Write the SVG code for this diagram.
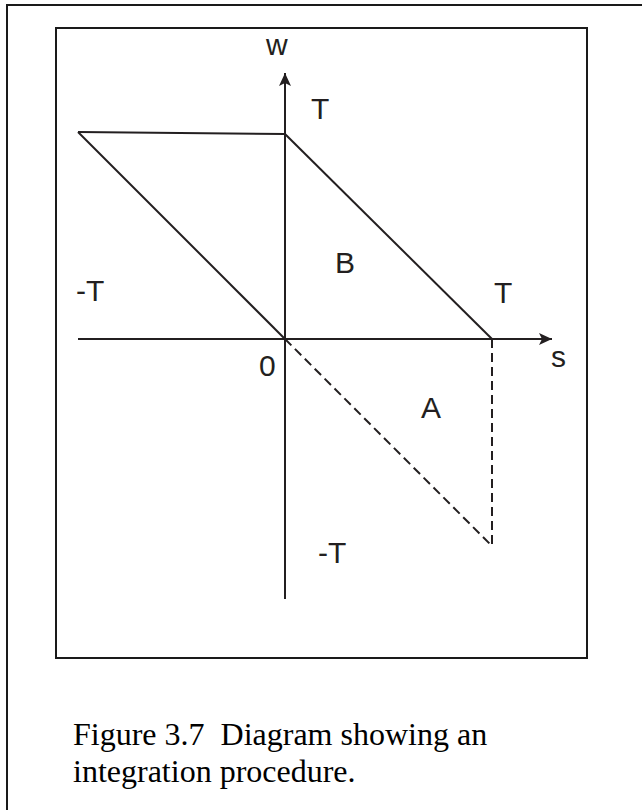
<svg xmlns="http://www.w3.org/2000/svg" width="642" height="810" viewBox="0 0 642 810">
<style>
.frame{fill:none;stroke:#1a1a1a;stroke-width:2}
.ln{fill:none;stroke:#231f20;stroke-width:2}
.dash{fill:none;stroke:#231f20;stroke-width:2;stroke-dasharray:9 5}
.lbl{font-family:"Liberation Sans",Arial,sans-serif;font-size:30px;fill:#231f20}
.cap{font-family:"Liberation Serif","Times New Roman",serif;font-size:32px;fill:#000}
</style>
<defs>
<marker id="arr" markerWidth="14" markerHeight="12" refX="13" refY="6" orient="auto" markerUnits="userSpaceOnUse">
<path d="M0,0 L13,6 L0,12 L3,6 Z" fill="#231f20"/>
</marker>
</defs>
<rect width="642" height="810" fill="#fff"/>
<g id="outer-frame"><path class="frame" d="M7,812 L7,5 L644,5"/></g>
<g id="inner-frame"><rect class="frame" x="56" y="28" width="531" height="630"/></g>
<g id="connectors">
<line class="ln" x1="78" y1="339" x2="552" y2="339" marker-end="url(#arr)"/>
<line class="ln" x1="285" y1="599" x2="285" y2="73" marker-end="url(#arr)"/>
<line class="ln" x1="78" y1="132" x2="285" y2="134"/>
<line class="ln" x1="78" y1="132" x2="285" y2="339"/>
<line class="ln" x1="285" y1="134" x2="492" y2="339"/>
<line class="dash" x1="285" y1="339" x2="492" y2="546"/>
<line class="dash" x1="492" y1="339" x2="492" y2="549"/>
</g>
<g id="labels">
<text class="lbl" x="266" y="55">w</text>
<text class="lbl" x="311" y="119">T</text>
<text class="lbl" x="335" y="273">B</text>
<text class="lbl" x="76" y="301">-T</text>
<text class="lbl" x="494" y="303">T</text>
<text class="lbl" x="259" y="376">0</text>
<text class="lbl" x="551" y="367">s</text>
<text class="lbl" x="421" y="418">A</text>
<text class="lbl" x="318" y="563">-T</text>
</g>
<g id="caption">
<text class="cap" x="73" y="745" xml:space="preserve">Figure 3.7  Diagram showing an</text>
<text class="cap" x="73" y="782">integration procedure.</text>
</g>
</svg>
